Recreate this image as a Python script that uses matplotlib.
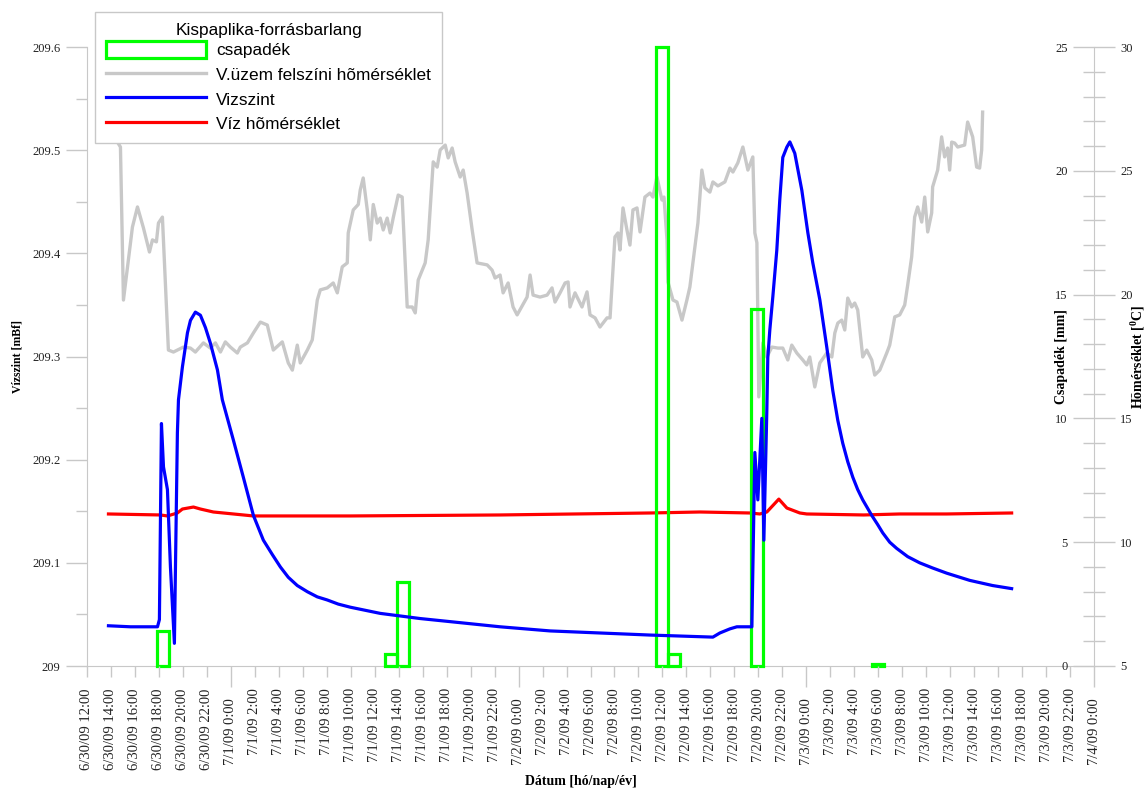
import numpy as np
import pandas as pd
import matplotlib
matplotlib.use("Agg")
import matplotlib.pyplot as plt
import matplotlib.dates as mdates
from matplotlib.ticker import MultipleLocator, FuncFormatter
from matplotlib.patches import Patch
from matplotlib.lines import Line2D

plt.rcParams["font.family"] = ["Liberation Serif", "DejaVu Serif"]
plt.rcParams["mathtext.fontset"] = "custom"
plt.rcParams["mathtext.rm"] = "Liberation Serif:bold"
plt.rcParams["mathtext.bf"] = "Liberation Serif:bold"
plt.rcParams["mathtext.it"] = "Liberation Serif:bold"

START = pd.Timestamp("2009-06-30 12:00")
END = pd.Timestamp("2009-07-04 00:00")

# ---- data (hours after 6/30/09 12:00) ----
level_hours = [1.79, 3.63, 5.29, 5.88, 6.04, 6.21, 6.38, 6.71, 6.96, 7.29, 7.38, 7.46, 7.54,
               7.63, 7.96, 8.38, 8.63, 9.04, 9.46, 9.88, 10.29, 10.88, 11.29, 12.21, 13.04,
               13.88, 14.71, 15.46, 16.13, 16.79, 17.54, 18.38, 19.21, 20.04, 20.96, 21.96,
               24.46, 27.79, 31.13, 34.46, 38.63, 42.79, 46.96, 52.21, 52.79, 53.63, 54.21,
               55.46, 55.71, 55.96, 56.29, 56.46, 56.71, 56.79, 56.96, 57.21, 57.54, 57.79,
               58.04, 58.38, 58.63, 59.04, 59.63, 60.13, 60.54, 61.13, 61.71, 62.21, 62.63,
               63.04, 63.46, 63.88, 64.29, 64.71, 65.46, 65.96, 66.38, 66.96, 67.54, 68.46,
               69.46, 70.54, 71.71, 73.63, 75.54, 77.13]
level_values = [209.039, 209.038, 209.038, 209.038, 209.045, 209.235, 209.193, 209.171,
                209.096, 209.022, 209.096, 209.161, 209.226, 209.258, 209.290, 209.323,
                209.335, 209.343, 209.340, 209.328, 209.313, 209.287, 209.258, 209.219,
                209.183, 209.146, 209.122, 209.108, 209.096, 209.086, 209.078, 209.072,
                209.067, 209.064, 209.060, 209.057, 209.051, 209.046, 209.042, 209.038,
                209.034, 209.032, 209.030, 209.028, 209.032, 209.036, 209.038, 209.038,
                209.207, 209.161, 209.240, 209.122, 209.248, 209.299, 209.326, 209.358,
                209.403, 209.452, 209.493, 209.503, 209.508, 209.497, 209.461, 209.420,
                209.391, 209.355, 209.309, 209.267, 209.238, 209.216, 209.198, 209.183,
                209.171, 209.161, 209.146, 209.137, 209.129, 209.120, 209.114, 209.106,
                209.100, 209.095, 209.090, 209.083, 209.078, 209.075]

water_hours = [1.79, 6.13, 6.71, 7.54, 7.96, 8.88, 9.46, 10.54, 12.21, 13.88, 21.96, 34.46,
               46.96, 51.13, 55.29, 56.13, 56.71, 57.71, 58.38, 59.46, 60.04, 64.79, 67.79,
               71.71, 77.13]
water_temp = [11.14, 11.10, 11.06, 11.18, 11.34, 11.42, 11.34, 11.22, 11.14, 11.06, 11.06,
              11.10, 11.18, 11.22, 11.18, 11.14, 11.22, 11.74, 11.38, 11.18, 11.14, 11.10,
              11.14, 11.14, 11.18]

air_hours = [2.54, 2.79, 3.04, 3.79, 4.21, 4.71, 5.21, 5.46, 5.79, 5.96, 6.29, 6.79, 7.21,
             7.54, 8.04, 8.63, 9.04, 9.71, 10.29, 10.71, 11.13, 11.54, 11.96, 12.54, 12.79,
             13.38, 13.88, 14.46, 15.04, 15.54, 16.29, 16.79, 17.13, 17.54, 17.79, 18.38,
             18.79, 19.21, 19.46, 20.04, 20.54, 20.88, 21.29, 21.71, 21.79, 22.21, 22.63,
             22.79, 23.04, 23.38, 23.63, 23.88, 24.21, 24.46, 24.71, 25.04, 25.29, 25.54,
             25.96, 26.29, 26.71, 27.13, 27.38, 27.63, 28.21, 28.46, 28.88, 29.21, 29.46,
             29.88, 30.13, 30.46, 30.71, 31.13, 31.38, 31.71, 32.13, 32.54, 33.38, 33.79,
             34.04, 34.46, 34.71, 35.13, 35.54, 35.88, 36.71, 36.96, 37.21, 37.79, 38.38,
             38.79, 39.04, 39.46, 39.88, 40.13, 40.29, 40.71, 41.29, 41.71, 41.96, 42.38,
             42.79, 43.38, 43.63, 44.04, 44.29, 44.46, 44.71, 45.04, 45.29, 45.54, 45.88,
             46.13, 46.54, 46.96, 47.21, 47.54, 47.96, 48.13, 48.38, 48.46, 48.88, 49.21,
             49.63, 50.04, 50.29, 50.54, 50.96, 51.29, 51.54, 51.96, 52.21, 52.63, 53.21,
             53.63, 53.88, 54.29, 54.71, 55.13, 55.54, 55.71, 55.88, 56.04, 56.29, 56.38,
             56.71, 57.13, 57.63, 58.04, 58.46, 58.79, 59.21, 59.71, 60.04, 60.29, 60.71,
             61.13, 61.71, 62.13, 62.38, 62.63, 62.96, 63.21, 63.46, 63.79, 64.04, 64.29,
             64.71, 65.04, 65.46, 65.71, 66.13, 66.71, 66.96, 67.38, 67.79, 68.21, 68.46,
             68.79, 69.04, 69.29, 69.63, 69.88, 70.13, 70.46, 70.54, 70.96, 71.29, 71.54,
             71.79, 71.96, 72.13, 72.38, 72.63, 73.21, 73.46, 73.88, 74.21, 74.46, 74.63,
             74.71]
air_temp = [26.16, 25.96, 19.78, 22.73, 23.54, 22.69, 21.72, 22.21, 22.13, 22.89, 23.13,
            17.76, 17.68, 17.76, 17.88, 17.84, 17.68, 18.05, 17.84, 18.05, 17.68, 18.09,
            17.88, 17.64, 17.88, 18.05, 18.45, 18.89, 18.77, 17.76, 18.09, 17.24, 16.95,
            17.96, 17.24, 17.76, 18.17, 19.78, 20.19, 20.27, 20.47, 20.07, 21.12, 21.28,
            22.49, 23.42, 23.64, 24.22, 24.71, 23.42, 22.21, 23.64, 22.89, 23.09, 22.61,
            23.09, 22.49, 23.09, 24.02, 23.94, 19.50, 19.50, 19.26, 20.59, 21.28, 22.21,
            25.36, 25.15, 25.84, 26.04, 25.52, 25.92, 25.36, 24.75, 25.03, 24.10, 22.61,
            21.28, 21.20, 20.99, 20.67, 20.79, 20.07, 20.47, 19.50, 19.18, 19.90, 20.79,
            19.98, 19.90, 19.98, 20.27, 19.70, 20.07, 20.47, 20.51, 19.50, 20.07, 19.50,
            20.11, 19.18, 19.06, 18.69, 19.06, 19.06, 22.33, 22.49, 21.80, 23.50, 22.61,
            22.00, 23.42, 23.50, 22.53, 23.94, 24.10, 23.94, 24.75, 23.82, 23.94, 22.21,
            20.51, 19.78, 19.70, 18.97, 19.78, 20.31, 21.28, 22.89, 25.03, 24.31, 24.14,
            24.55, 24.39, 24.55, 25.11, 24.95, 25.32, 25.96, 25.03, 25.56, 22.49, 22.09,
            15.87, 17.48, 18.05, 17.48, 17.88, 17.84, 17.84, 17.36, 17.96, 17.64, 17.36,
            17.16, 17.48, 16.27, 17.24, 17.64, 17.48, 18.45, 18.85, 18.97, 18.57, 19.86,
            19.50, 19.66, 19.38, 17.48, 17.76, 17.36, 16.75, 16.95, 17.64, 17.96, 19.10,
            19.18, 19.58, 20.39, 21.52, 23.13, 23.54, 22.93, 23.94, 22.53, 23.30, 24.35,
            25.03, 26.37, 25.56, 25.92, 25.03, 26.16, 26.12, 25.96, 26.04, 26.97, 26.37,
            25.15, 25.11, 25.84, 27.37]

rain_hours = [6.33, 25.33, 26.33, 48.0, 49.0, 55.9, 66.0]
rain_mm = [1.4, 0.5, 3.4, 25.0, 0.5, 14.4, 0.1]

legend_title = "Kispaplika-forrásbarlang"
legend_labels = ["csapadék", "V.üzem felszíni hõmérséklet", "Vizszint", "Víz hõmérséklet"]


def to_time(hours):
    return START + pd.to_timedelta(np.asarray(hours, dtype=float), unit="h")


GRAY = "#c8c8c8"
BLUE = "#0000ff"
RED = "#ff0000"
GREEN = "#00ff00"
TXT = "#222222"

W, H = 1146, 793
fig = plt.figure(figsize=(W / 100, H / 100), dpi=100)
L, R, T, B = 87, 1094, 47, 666
ax = fig.add_axes([L / W, 1 - B / H, (R - L) / W, (B - T) / H])
ax_temp = ax.twinx()
ax_rain = ax.twinx()
ax_temp.set_zorder(1)
ax_rain.set_zorder(2)
ax.set_zorder(3)
ax.patch.set_visible(False)
ax_rain.patch.set_visible(False)

# air + water temperature
ax_temp.plot(to_time(air_hours), air_temp, color=GRAY, lw=2.4, solid_joinstyle="round")
ax_temp.plot(to_time(water_hours), water_temp, color=RED, lw=2.3, solid_joinstyle="round")
# rain
bars = ax_rain.bar(to_time(rain_hours), rain_mm, width=1 / 24, facecolor="none",
                   edgecolor=GREEN, linewidth=2.3)
for b in bars:
    b.set_clip_on(False)
# water level
ax.plot(to_time(level_hours), level_values, color=BLUE, lw=2.3, solid_joinstyle="round")

ax.set_xlim(START, END)
ax.set_ylim(209.0, 209.6)
ax_temp.set_ylim(5, 30)
ax_rain.set_ylim(0, 25)

# spines (drawn on the lowest axes so the bars sit on top)
for a in (ax, ax_temp, ax_rain):
    for s in a.spines.values():
        s.set_visible(False)
        s.set_color(GRAY)
ax_temp.spines["left"].set_visible(True)
ax_temp.spines["bottom"].set_visible(True)
ax_temp.spines["right"].set_visible(True)


def date_fmt(x, pos=None):
    d = mdates.num2date(x)
    return f"{d.month}/{d.day}/{d:%y} {d.hour}:{d.minute:02d}"


ax.xaxis.set_major_locator(mdates.DayLocator())
ax.xaxis.set_minor_locator(mdates.HourLocator(byhour=list(range(2, 24, 2))))
ax.xaxis.set_major_formatter(FuncFormatter(date_fmt))
ax.xaxis.set_minor_formatter(FuncFormatter(date_fmt))
ax.tick_params(axis="x", which="major", length=15, width=1, color=GRAY, pad=8,
               labelsize=10.5, labelcolor=TXT, labelrotation=90)
ax.tick_params(axis="x", which="minor", length=8, width=1, color=GRAY, pad=8,
               labelsize=10.5, labelcolor=TXT, labelrotation=90)

# left y axis
ax.yaxis.set_major_locator(MultipleLocator(0.1))
ax.yaxis.set_minor_locator(MultipleLocator(0.05))
ax.yaxis.set_major_formatter(FuncFormatter(lambda v, p: f"{v:g}"))
ax.tick_params(axis="y", which="major", length=15, width=1, color=GRAY, pad=4,
               labelsize=9, labelcolor=TXT)
ax.tick_params(axis="y", which="minor", length=8, width=1, color=GRAY)

# rain axis: ticks on the left side of the right spine
ax_rain.yaxis.tick_left()
ax_rain.spines["left"].set_position(("axes", 1.0))
ax_rain.yaxis.set_major_locator(MultipleLocator(5))
ax_rain.yaxis.set_minor_locator(MultipleLocator(1))
ax_rain.tick_params(axis="y", which="major", length=15, width=1, color=GRAY, pad=4,
                    labelsize=9, labelcolor=TXT)
ax_rain.tick_params(axis="y", which="minor", length=8, width=1, color=GRAY)

# temperature axis
ax_temp.yaxis.set_major_locator(MultipleLocator(5))
ax_temp.yaxis.set_minor_locator(MultipleLocator(1))
ax_temp.tick_params(axis="y", which="major", length=15, width=1, color=GRAY, pad=4,
                    labelsize=9, labelcolor=TXT)
ax_temp.tick_params(axis="y", which="minor", length=8, width=1, color=GRAY)

# axis labels
lab = dict(fontweight="bold", color="black")
ax.set_ylabel("Vízszint [mBf]", fontsize=8.5, va="center", **lab)
ax.yaxis.set_label_coords((18 - L) / (R - L), 0.5)
ax_rain.set_ylabel("Csapadék [mm]", fontsize=10, va="center", **lab)
ax_rain.yaxis.set_label_coords((1062 - L) / (R - L), 0.5)
ax_temp.set_ylabel(r"Hõmérséklet [$^{0}$C]", fontsize=10, va="center", rotation=90, **lab)
ax_temp.yaxis.set_label_coords((1138 - L) / (R - L), 0.5)
ax.set_xlabel("Dátum [hó/nap/év]", fontsize=10, va="center", **lab)
ax.xaxis.set_label_coords(0.49, (B - 782) / (B - T))

# legend
handles = [Patch(facecolor="none", edgecolor=GREEN, linewidth=2.3),
           Line2D([], [], color=GRAY, lw=2.4),
           Line2D([], [], color=BLUE, lw=2.3),
           Line2D([], [], color=RED, lw=2.3)]
leg = fig.legend(handles, legend_labels, title=legend_title, loc="upper left",
                 bbox_to_anchor=(95 / W, 1 - 12 / H), borderaxespad=0,
                 prop={"family": ["Liberation Sans", "DejaVu Sans"], "size": 12.4},
                 title_fontproperties={"family": ["Liberation Sans", "DejaVu Sans"],
                                       "size": 12.4},
                 frameon=True, fancybox=False, edgecolor=GRAY, framealpha=1,
                 handlelength=5.8, handleheight=1.15, handletextpad=0.6,
                 labelspacing=0.42, borderpad=0.65)
leg._legend_box.sep = 2
leg.get_frame().set_linewidth(1.0)
leg.set_zorder(10)

fig.savefig("out.png", dpi=100)
